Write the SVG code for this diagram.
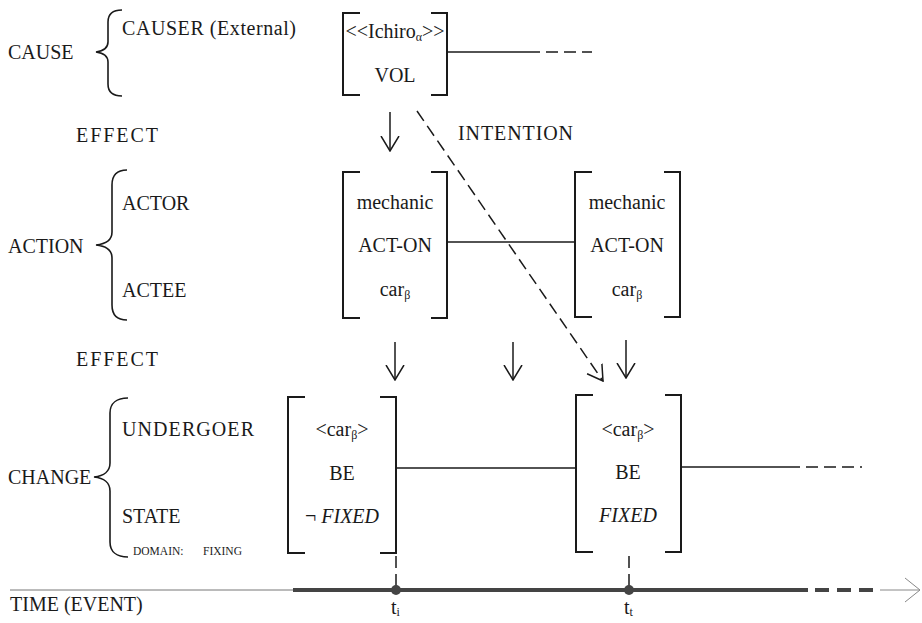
<svg xmlns="http://www.w3.org/2000/svg" width="922" height="623" viewBox="0 0 922 623">
<style>
text{font-family:"Liberation Serif","DejaVu Serif",serif;font-size:20px;fill:#1a1a1a}
.c{text-anchor:middle}
.sub{font-size:12px}
.small{font-size:11.5px}
.it{font-style:italic}
.brace{fill:none;stroke:#1a1a1a;stroke-width:1.6}
.br{fill:none;stroke:#1a1a1a;stroke-width:2}
.ln{fill:none;stroke:#1a1a1a;stroke-width:1.5}
.dash{fill:none;stroke:#1a1a1a;stroke-width:1.5;stroke-dasharray:12 6}
.arr{fill:none;stroke:#1a1a1a;stroke-width:1.5;marker-end:url(#ah)}
</style>
<defs>
<marker id="ah" viewBox="0 0 16 20" refX="15" refY="10" markerWidth="16" markerHeight="20" markerUnits="userSpaceOnUse" orient="auto">
<path d="M0,1 L15,10 L0,19" fill="none" stroke="#1a1a1a" stroke-width="1.5"/>
</marker>
</defs>

<g id="labels">
<text x="8" y="59">CAUSE</text>
<path class="brace" d="M122,10 C112,10 108,14 108,22 L108,42 C108,48 103,51 96,52 C103,53 108,56 108,62 L108,84 C108,92 112,96 122,96"/>
<text x="122" y="35" textLength="174">CAUSER (External)</text>
<text x="76" y="142" textLength="82">EFFECT</text>
<text x="8" y="253">ACTION</text>
<path class="brace" d="M127,170 C117,170 112,175 112,185 L112,232 C112,240 106,244 96,245 C106,246 112,250 112,258 L112,305 C112,315 117,320 127,320"/>
<text x="122" y="210">ACTOR</text>
<text x="122" y="297">ACTEE</text>
<text x="76" y="366" textLength="82">EFFECT</text>
<text x="8" y="484">CHANGE</text>
<path class="brace" d="M128,398 C117,398 110,403 110,413 L110,463 C110,471 104,476 94,477 C104,478 110,483 110,491 L110,542 C110,552 117,557 128,557"/>
<text x="122" y="436" textLength="132">UNDERGOER</text>
<text x="122" y="523">STATE</text>
<text class="small" x="133" y="555">DOMAIN:</text>
<text class="small" x="203" y="555">FIXING</text>
<text x="458" y="140" textLength="115">INTENTION</text>
<text x="10" y="611">TIME (EVENT)</text>
</g>

<g id="n-causer">
<path class="br" d="M360,13 H343 V95 H360 M431,13 H447 V95 H431"/>
<text class="c" x="395" y="38" font-size="18">&lt;&lt;Ichiro<tspan class="sub" dy="3">α</tspan><tspan dy="-3">&gt;&gt;</tspan></text>
<text class="c" x="395" y="82">VOL</text>
</g>

<g id="n-action1">
<path class="br" d="M360,172 H343 V318 H360 M431,172 H447 V318 H431"/>
<text class="c" x="395" y="209">mechanic</text>
<text class="c" x="395" y="252">ACT-ON</text>
<text class="c" x="395" y="296">car<tspan class="sub" dy="3">β</tspan></text>
</g>

<g id="n-action2">
<path class="br" d="M592,172 H575 V317 H592 M664,172 H680 V317 H664"/>
<text class="c" x="627" y="209">mechanic</text>
<text class="c" x="627" y="252">ACT-ON</text>
<text class="c" x="627" y="296">car<tspan class="sub" dy="3">β</tspan></text>
</g>

<g id="n-state1">
<path class="br" d="M305,397 H288 V553 H305 M380,397 H396 V553 H380"/>
<text class="c" x="342" y="436">&lt;car<tspan class="sub" dy="3">β</tspan><tspan dy="-3">&gt;</tspan></text>
<text class="c" x="342" y="480">BE</text>
<text class="c" x="342" y="523">¬ <tspan class="it">FIXED</tspan></text>
</g>

<g id="n-state2">
<path class="br" d="M593,395 H576 V552 H593 M665,395 H681 V552 H665"/>
<text class="c" x="628" y="436">&lt;car<tspan class="sub" dy="3">β</tspan><tspan dy="-3">&gt;</tspan></text>
<text class="c" x="628" y="479">BE</text>
<text class="c it" x="628" y="522">FIXED</text>
</g>

<g id="connectors">
<line class="ln" x1="447" y1="52" x2="540" y2="52"/>
<line class="dash" x1="546" y1="52" x2="592" y2="52"/>
<line class="ln" x1="447" y1="242" x2="575" y2="242"/>
<line class="ln" x1="396" y1="468" x2="576" y2="468"/>
<line class="ln" x1="681" y1="467" x2="800" y2="467"/>
<line class="dash" x1="806" y1="467" x2="862" y2="467"/>
<line class="arr" x1="390" y1="112" x2="390" y2="151"/>
<line class="arr" x1="395" y1="342" x2="395" y2="380"/>
<line class="arr" x1="513" y1="342" x2="513" y2="380"/>
<line class="arr" x1="626" y1="340" x2="626" y2="378"/>
<line class="dash" x1="417" y1="111" x2="603" y2="381" stroke-dasharray="11 7" marker-end="url(#ah)"/>
<line class="dash" x1="396" y1="556" x2="396" y2="587" stroke-dasharray="7 4" stroke-width="2"/>
<line class="dash" x1="629" y1="556" x2="629" y2="586" stroke-dasharray="7 4" stroke-width="2"/>
</g>

<g id="timeline">
<line x1="10" y1="590" x2="293" y2="590" stroke="#777" stroke-width="1"/>
<line x1="293" y1="590" x2="808" y2="590" stroke="#444" stroke-width="4"/>
<line x1="815" y1="590" x2="880" y2="590" stroke="#444" stroke-width="4" stroke-dasharray="14 8"/>
<line x1="880" y1="590" x2="920" y2="590" stroke="#888" stroke-width="1"/>
<path d="M905,578 L920,590 L905,602" fill="none" stroke="#888" stroke-width="1"/>
<circle cx="396" cy="590" r="5" fill="#444"/>
<circle cx="629" cy="590" r="5" fill="#444"/>
<text x="391" y="614">t<tspan class="sub" dy="2">i</tspan></text>
<text x="624" y="614">t<tspan class="sub" dy="2">t</tspan></text>
</g>
</svg>
